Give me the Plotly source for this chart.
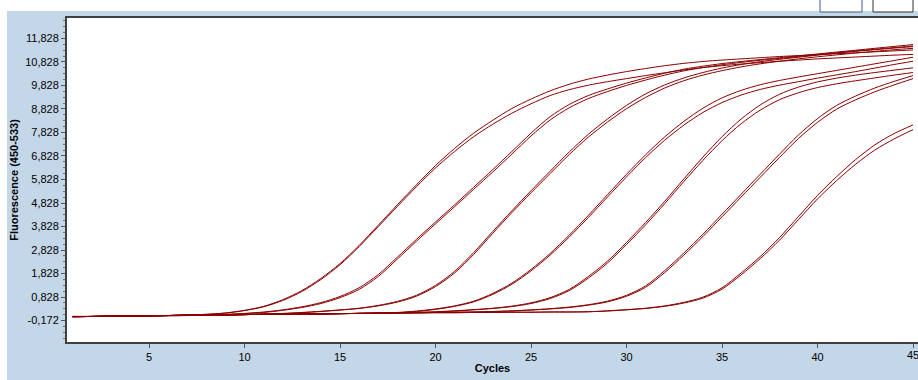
import plotly.graph_objects as go

cycles = list(range(1, 46))

A1 = [0.00,0.00,0.01,0.02,0.03,0.04,0.06,0.09,0.15,0.26,0.43,0.71,1.10,1.62,2.25,3.02,3.88,4.75,5.60,6.42,7.15,7.80,8.35,8.85,9.25,9.60,9.88,10.10,10.27,10.42,10.55,10.67,10.77,10.85,10.91,10.96,11.01,11.06,11.10,11.14,11.18,11.22,11.26,11.30,11.34]
A2 = [0.00,0.00,0.01,0.02,0.03,0.04,0.06,0.09,0.14,0.25,0.41,0.68,1.06,1.57,2.20,2.97,3.82,4.68,5.52,6.32,7.02,7.65,8.18,8.65,9.05,9.40,9.65,9.84,9.99,10.12,10.25,10.37,10.49,10.59,10.67,10.74,10.80,10.86,10.91,10.96,11.00,11.04,11.08,11.12,11.15]
B1 = [0.00,0.00,0.01,0.02,0.03,0.04,0.05,0.07,0.09,0.13,0.19,0.28,0.41,0.59,0.85,1.22,1.78,2.52,3.28,4.02,4.75,5.50,6.25,7.02,7.80,8.50,9.02,9.40,9.68,9.93,10.15,10.35,10.52,10.65,10.76,10.85,10.93,11.01,11.09,11.17,11.25,11.33,11.41,11.49,11.57]
B2 = [0.00,0.00,0.01,0.02,0.03,0.04,0.05,0.06,0.08,0.12,0.17,0.26,0.38,0.55,0.80,1.15,1.70,2.44,3.20,3.94,4.67,5.41,6.15,6.91,7.68,8.36,8.88,9.27,9.57,9.83,10.06,10.27,10.45,10.59,10.71,10.81,10.90,10.98,11.06,11.14,11.22,11.30,11.37,11.44,11.51]
C1 = [0.00,0.00,0.01,0.02,0.03,0.03,0.04,0.05,0.06,0.08,0.10,0.13,0.17,0.22,0.28,0.35,0.47,0.64,0.90,1.32,1.92,2.72,3.62,4.50,5.35,6.18,7.00,7.75,8.40,8.98,9.47,9.85,10.15,10.38,10.57,10.72,10.84,10.94,11.03,11.12,11.20,11.28,11.35,11.42,11.48]
C2 = [0.00,0.00,0.01,0.02,0.03,0.03,0.04,0.05,0.06,0.08,0.10,0.12,0.16,0.21,0.27,0.34,0.45,0.61,0.86,1.27,1.85,2.64,3.54,4.42,5.26,6.08,6.89,7.63,8.27,8.84,9.32,9.72,10.03,10.27,10.46,10.62,10.75,10.86,10.96,11.05,11.13,11.21,11.28,11.35,11.41]
D1 = [-0.01,0.00,0.01,0.02,0.03,0.04,0.05,0.06,0.07,0.08,0.09,0.10,0.10,0.11,0.12,0.13,0.14,0.17,0.23,0.32,0.45,0.65,0.98,1.42,2.00,2.68,3.46,4.30,5.18,6.05,6.88,7.64,8.30,8.86,9.30,9.62,9.86,10.04,10.19,10.33,10.47,10.61,10.75,10.89,11.03]
D2 = [-0.01,0.00,0.01,0.02,0.03,0.04,0.05,0.06,0.07,0.08,0.09,0.10,0.10,0.11,0.12,0.13,0.14,0.16,0.21,0.30,0.43,0.62,0.94,1.37,1.94,2.61,3.38,4.21,5.08,5.94,6.76,7.50,8.14,8.68,9.10,9.42,9.66,9.84,9.99,10.14,10.28,10.42,10.57,10.72,10.86]
E1 = [-0.01,0.00,0.01,0.02,0.03,0.04,0.05,0.06,0.07,0.08,0.09,0.10,0.10,0.11,0.12,0.13,0.14,0.15,0.17,0.20,0.24,0.29,0.35,0.44,0.58,0.80,1.15,1.70,2.35,3.15,4.00,4.90,5.85,6.78,7.65,8.40,9.00,9.45,9.76,9.98,10.14,10.27,10.38,10.48,10.58]
E2 = [-0.01,0.00,0.01,0.02,0.03,0.04,0.05,0.06,0.07,0.08,0.09,0.10,0.10,0.11,0.12,0.13,0.14,0.15,0.17,0.19,0.23,0.28,0.34,0.42,0.55,0.76,1.10,1.63,2.27,3.06,3.90,4.80,5.74,6.64,7.48,8.20,8.78,9.22,9.52,9.74,9.90,10.03,10.15,10.27,10.38]
F1 = [-0.01,0.00,0.01,0.02,0.03,0.04,0.05,0.06,0.07,0.08,0.09,0.10,0.10,0.11,0.12,0.13,0.14,0.15,0.16,0.17,0.18,0.19,0.21,0.24,0.28,0.33,0.40,0.50,0.65,0.90,1.30,1.95,2.70,3.50,4.35,5.20,6.05,6.90,7.72,8.42,8.98,9.38,9.72,10.00,10.25]
F2 = [-0.01,0.00,0.01,0.02,0.03,0.04,0.05,0.06,0.07,0.08,0.09,0.10,0.10,0.11,0.12,0.13,0.14,0.15,0.16,0.17,0.18,0.19,0.21,0.23,0.27,0.32,0.38,0.48,0.62,0.86,1.24,1.87,2.61,3.40,4.24,5.08,5.92,6.76,7.57,8.26,8.82,9.22,9.56,9.85,10.12]
G1 = [-0.01,0.00,0.01,0.02,0.03,0.04,0.05,0.06,0.07,0.08,0.09,0.10,0.10,0.11,0.12,0.13,0.14,0.15,0.15,0.16,0.16,0.17,0.17,0.18,0.18,0.19,0.19,0.20,0.24,0.29,0.35,0.45,0.60,0.82,1.22,1.85,2.55,3.35,4.25,5.15,5.95,6.68,7.30,7.78,8.15]
G2 = [-0.01,0.00,0.01,0.02,0.03,0.04,0.05,0.06,0.07,0.08,0.09,0.10,0.10,0.11,0.12,0.13,0.14,0.15,0.15,0.16,0.16,0.17,0.17,0.18,0.18,0.19,0.19,0.20,0.23,0.28,0.34,0.43,0.57,0.78,1.16,1.77,2.46,3.24,4.12,5.00,5.78,6.48,7.08,7.55,7.95]

series = [A1, A2, B1, B2, C1, C2, D1, D2, E1, E2, F1, F2, G1, G2]

y_tick_vals = [-0.172, 0.828, 1.828, 2.828, 3.828, 4.828, 5.828, 6.828, 7.828, 8.828, 9.828, 10.828, 11.828]
y_tick_text = ["-0,172", "0,828", "1,828", "2,828", "3,828", "4,828", "5,828", "6,828", "7,828", "8,828", "9,828", "10,828", "11,828"]
x_tick_vals = [5, 10, 15, 20, 25, 30, 35, 40, 45]

LINE = "#8B0000"
BG = "#C4D7E9"

fig = go.Figure()
for s in series:
    fig.add_trace(go.Scatter(x=cycles, y=s, mode="lines",
                             line=dict(color=LINE, width=1.0, shape="spline", smoothing=0.8),
                             showlegend=False, hoverinfo="skip"))

W, H = 918, 380
L, T, B, R = 67, 18, 38, 0
pw, ph = W - L - R, H - T - B

def px(xp):
    return (xp - L) / pw

def py(yp):
    return (H - B - yp) / ph

shapes = [
    dict(type="rect", xref="paper", yref="paper", x0=px(-5), x1=px(W + 5), y0=py(11), y1=py(-5),
         fillcolor="white", line=dict(width=0), layer="above"),
    dict(type="rect", xref="paper", yref="paper", x0=px(-5), x1=px(7), y0=py(H + 5), y1=py(-5),
         fillcolor="white", line=dict(width=0), layer="above"),
    dict(type="rect", xref="paper", yref="paper", x0=px(820), x1=px(862), y0=py(12), y1=py(-6),
         fillcolor="white", line=dict(width=1, color="#3a5f8a"), layer="above"),
    dict(type="rect", xref="paper", yref="paper", x0=px(873), x1=px(913), y0=py(12), y1=py(-6),
         fillcolor="white", line=dict(width=1, color="#333333"), layer="above"),
]

fig.update_layout(
    width=W, height=H,
    margin=dict(l=L, r=R, t=T, b=B, pad=0),
    paper_bgcolor=BG, plot_bgcolor="white",
    font=dict(family="Liberation Sans, Arial, sans-serif", size=11, color="#000000"),
    shapes=shapes,
    annotations=[dict(x=x_tick_vals[-1], xref="x", y=0, yref="paper", yshift=-13,
                      text=str(x_tick_vals[-1]), showarrow=False, xanchor="center", yanchor="middle",
                      font=dict(size=11, color="#000000"))],
    xaxis=dict(range=[0.707, 45.26], tickvals=x_tick_vals, ticks="outside", ticklen=4,
               tickcolor="#555555", showgrid=False, zeroline=False,
               showline=True, linecolor="#404040", linewidth=2, mirror=True,
               title=dict(text="<b>Cycles</b>", standoff=2, font=dict(size=11))),
    yaxis=dict(range=[-1.087, 12.70], tickvals=y_tick_vals, ticktext=y_tick_text,
               ticks="outside", ticklen=4, tickcolor="#555555",
               minor=dict(dtick=0.25, tick0=-0.172, ticks="outside", ticklen=2, tickcolor="#777777"),
               showgrid=False, zeroline=False, showline=True, linecolor="#404040", linewidth=2,
               title=dict(text="<b>Fluorescence (450-533)</b>", standoff=4, font=dict(size=11))),
)

fig.write_html("out.html", config={"displayModeBar": False})
